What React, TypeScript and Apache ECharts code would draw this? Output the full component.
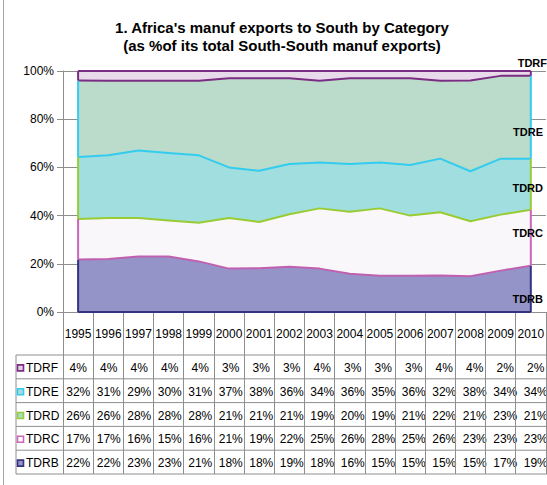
import React, { useEffect, useRef } from "react";
import * as echarts from "echarts";

const years = ["1995","1996","1997","1998","1999","2000","2001","2002","2003","2004","2005","2006","2007","2008","2009","2010"];
const TDRF = [4,4,4,4,4,3,3,3,4,3,3,3,4,4,2,2];
const TDRE = [32,31,29,30,31,37,38,36,34,36,35,36,32,38,34,34];
const TDRD = [26,26,28,28,28,21,21,21,19,20,19,21,22,21,23,21];
const TDRC = [17,17,16,15,16,21,19,22,25,26,28,25,26,23,23,23];
const TDRB = [22,22,23,23,21,18,18,19,18,16,15,15,15,15,17,19];

const titleLines = ["1. Africa's manuf exports to South by Category", "(as %of its total South-South manuf exports)"];

const FONT = "'Liberation Sans', Arial, sans-serif";
const GRID = "#8e8e8e";

// bottom to top
const seriesDefs = [
  { name: "TDRB", values: TDRB, fill: "#9494C8", line: "#C060B0", keyBorder: "#333380", keyFill: "#9494C8", labelY: 299, labelX: 543 },
  { name: "TDRC", values: TDRC, fill: "#FAF7FA", line: "#99CC33", keyBorder: "#CC66BB", keyFill: "#FFFFFF", labelY: 233, labelX: 543 },
  { name: "TDRD", values: TDRD, fill: "#A0DEDF", line: "#33CCEE", keyBorder: "#99CC33", keyFill: "#A8DCC8", labelY: 188, labelX: 543 },
  { name: "TDRE", values: TDRE, fill: "#BCDCCB", line: "#7B2C83", keyBorder: "#33CCEE", keyFill: "#A8DCE0", labelY: 132, labelX: 543 },
  { name: "TDRF", values: TDRF, fill: "#E8DAEA", line: "#7B2C83", keyBorder: "#7B2C83", keyFill: "#E0D0E6", labelY: 63, labelX: 547 },
];

export default function App() {
  const ref = useRef<HTMLDivElement>(null);
  useEffect(() => {
    if (!ref.current) return;
    const chart = echarts.init(ref.current, undefined, { renderer: "svg" });
    const totals = years.map((_, i) => seriesDefs.reduce((s, d) => s + d.values[i], 0));
    const shares = seriesDefs.map((d) => d.values.map((v, i) => (v / totals[i]) * 100));

    // edge segments (Excel-style outline at first and last category)
    const edgeData: any[] = [];
    [0, years.length - 1].forEach((xi) => {
      let cum = 0;
      seriesDefs.forEach((d, si) => {
        const lo = cum;
        cum += shares[si][xi];
        edgeData.push([xi, lo, cum, si]);
      });
    });

    const gridLeft = 63;
    const gridTop = 71;
    const gridBottomY = 312;
    const colW = 30.5;
    const tableTop = 355;
    const rowH = 23.8;
    const tableLeft = 16;
    const tableRight = gridLeft + colW * years.length;

    const graphic: any[] = [];
    graphic.push({ type: "line", shape: { x1: 3.5, y1: 0, x2: 3.5, y2: 485 }, style: { stroke: "#a6a6a6", lineWidth: 1 } });
    titleLines.forEach((t, i) => {
      graphic.push({ type: "text", x: 282, y: 27 + i * 18, style: { text: t, font: `bold 15px ${FONT}`, fill: "#000", textAlign: "center", textVerticalAlign: "middle" } });
    });
    for (let k = 0; k <= 5; k++) {
      const y = tableTop + rowH * k;
      graphic.push({ type: "line", shape: { x1: tableLeft, y1: y, x2: tableRight, y2: y }, style: { stroke: GRID, lineWidth: 1 } });
    }
    graphic.push({ type: "line", shape: { x1: tableLeft, y1: tableTop, x2: tableLeft, y2: tableTop + rowH * 5 }, style: { stroke: GRID, lineWidth: 1 } });
    const rows = [...seriesDefs].reverse();
    rows.forEach((d, r) => {
      const cy = tableTop + rowH * (r + 0.5) + 1;
      graphic.push({ type: "rect", shape: { x: 17.5, y: cy - 3, width: 6, height: 6 }, style: { fill: d.keyFill, stroke: d.keyBorder, lineWidth: 1.6 } });
      graphic.push({ type: "text", x: 26, y: cy, style: { text: d.name, font: `12px ${FONT}`, fill: "#000", textAlign: "left", textVerticalAlign: "middle" } });
      d.values.forEach((v, i) => {
        graphic.push({ type: "text", x: gridLeft + colW * (i + 0.5), y: cy, style: { text: v + "%", font: `12px ${FONT}`, fill: "#000", textAlign: "center", textVerticalAlign: "middle" } });
      });
    });
    seriesDefs.forEach((d) => {
      graphic.push({ type: "text", x: d.labelX, y: d.labelY, z: 100, style: { text: d.name, font: `bold 11px ${FONT}`, fill: "#000", textAlign: "right", textVerticalAlign: "middle" } });
    });

    chart.setOption({
      animation: false,
      backgroundColor: "#ffffff",
      grid: { left: gridLeft, top: gridTop, right: 547 - tableRight, bottom: 485 - gridBottomY },
      xAxis: {
        type: "category",
        data: years,
        boundaryGap: true,
        axisLine: { show: true, lineStyle: { color: GRID, width: 1 } },
        axisTick: { show: true, interval: 0, length: tableTop + rowH * 5 - gridBottomY, lineStyle: { color: GRID } },
        axisLabel: { interval: 0, margin: 16, fontSize: 12, color: "#000", fontFamily: FONT },
        splitLine: { show: false },
      },
      yAxis: {
        type: "value",
        min: 0,
        max: 100,
        interval: 20,
        axisLine: { show: true, lineStyle: { color: GRID } },
        axisTick: { show: true, length: 6, lineStyle: { color: GRID } },
        axisLabel: { formatter: "{value}%", margin: 9, fontSize: 12, color: "#000", fontFamily: FONT },
        splitLine: { show: true, lineStyle: { color: GRID, width: 1 } },
      },
      series: [
        ...seriesDefs.map((d, si) => ({
          name: d.name,
          type: "line",
          stack: "total",
          z: 10 - si,
          symbol: "none",
          smooth: false,
          data: shares[si],
          lineStyle: { color: d.line, width: 2 },
          areaStyle: { color: d.fill, opacity: 1 },
          itemStyle: { color: d.line },
        })),
        {
          type: "custom",
          name: "edges",
          z: 20,
          silent: true,
          data: edgeData,
          renderItem: (params: any, api: any) => {
            const xi = api.value(0);
            const lo = api.value(1);
            const hi = api.value(2);
            const si = api.value(3);
            const p1 = api.coord([xi, lo]);
            const p2 = api.coord([xi, hi]);
            const children: any[] = [
              { type: "line", shape: { x1: p1[0], y1: p1[1], x2: p2[0], y2: p2[1] }, style: { stroke: seriesDefs[si].keyBorder, lineWidth: 2 } },
            ];
            if (si === 0 && xi === 0) {
              const pe = api.coord([years.length - 1, 0]);
              children.push({ type: "line", shape: { x1: p1[0], y1: p1[1], x2: pe[0], y2: pe[1] }, style: { stroke: seriesDefs[0].keyBorder, lineWidth: 2 } });
            }
            return { type: "group", children };
          },
        },
      ],
      graphic,
    });
    return () => chart.dispose();
  }, []);
  return <div ref={ref} style={{ position: "absolute", left: 0, top: 0, width: 547, height: 485 }} />;
}
